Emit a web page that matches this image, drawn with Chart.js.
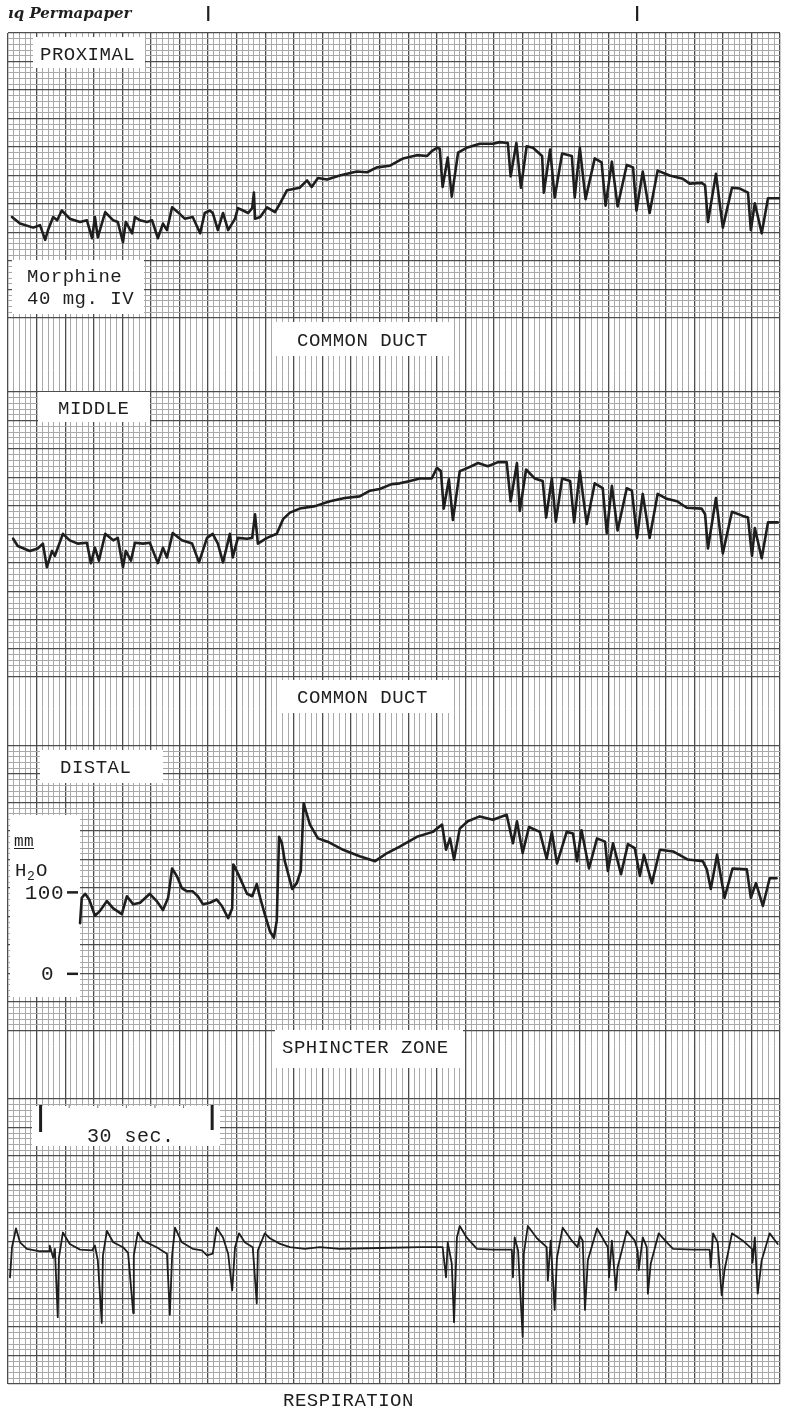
<!DOCTYPE html>
<html>
<head>
<meta charset="utf-8">
<script src="https://cdn.jsdelivr.net/npm/chart.js@4.4.1/dist/chart.umd.min.js"></script>
<style>
  html, body { margin: 0; background: #fff; }
  #wrap { width: 790px; height: 1410px; }
</style>
</head>
<body>
<div id="wrap"><canvas id="strip" width="790" height="1410"></canvas></div>
<script>
// paper: 1 small square = 1 s across, 5 squares per heavy line
const SECONDS = 135;
const ROWS = 237;
const CH_ROWS = 50;
const ZERO_ROW = 40;           // pressure zero sits 8 heavy lines below each channel top
const MM_PER_ROW = 7;          // mm H2O per small square
const channelTop = [0, 63, 125, 187];

// --- traces (seconds, mm H2O) ---
const proxSec = [0.7,2.1,4.4,5.6,6.5,7.0,7.9,8.6,9.4,10.8,12.6,13.8,14.7,15.2,15.7,17.0,18.4,19.2,20.1,20.6,21.7,22.2,23.1,24.3,25.2,26.2,27.1,27.8,28.7,29.7,30.9,32.3,33.6,34.4,35.3,35.8,36.7,37.6,38.5,39.7,40.2,41.1,42.0,42.7,43.0,43.2,44.1,45.3,46.7,47.6,48.8,51.0,52.3,53.1,54.2,55.8,58.0,61.0,62.8,64.5,66.8,69.1,71.5,73.3,74.1,75.0,75.5,76.0,76.9,77.6,78.7,80.2,82.5,84.8,86.0,87.4,87.9,88.9,89.7,90.7,91.8,93.4,93.7,94.8,95.6,96.9,98.6,99.1,100.0,101.0,102.6,103.8,104.5,105.6,106.6,108.2,109.3,109.9,111.0,112.2,113.6,115.7,118.0,119.2,121.3,121.9,122.4,123.8,125.0,126.6,128.0,129.4,129.9,130.6,131.8,132.9,135.0];
const proxVal = [54,46,41,44,26,38,54,50,62,52,48,50,28,54,29,60,50,48,23,48,34,54,50,48,50,28,46,38,66,60,52,54,34,59,62,59,38,59,38,52,65,62,59,65,84,52,54,66,60,71,87,90,99,91,102,100,105,110,109,115,117,126,130,129,135,139,138,91,127,79,133,139,144,144,146,145,104,145,90,141,139,129,84,137,78,132,129,78,139,76,126,121,68,122,67,118,115,62,110,59,111,105,101,95,96,93,48,107,41,90,89,84,38,71,34,77,77];

const midSec = [0.9,1.7,3.8,5.2,6.1,6.8,7.7,8.2,9.6,10.8,12.2,13.8,14.5,15.2,15.9,17.0,18.4,19.2,20.1,20.6,21.5,22.2,23.6,24.8,26.2,27.1,27.8,28.8,30.4,32.2,33.4,34.8,35.8,36.7,37.6,38.8,39.3,40.2,41.8,42.7,43.2,43.7,45.3,47.0,48.1,49.3,51.0,53.7,56.3,58.9,61.5,63.3,65.0,67.1,68.5,70.3,72.0,74.1,75.0,75.7,76.2,77.1,77.8,79.0,80.4,82.2,83.9,85.7,87.2,87.9,89.0,89.5,90.6,92.1,93.5,94.1,95.1,95.8,96.9,98.3,99.0,100.0,101.2,102.6,104.0,104.7,105.6,106.6,108.2,109.1,110.0,111.0,112.2,113.6,115.2,117.0,118.7,121.3,121.9,122.4,123.8,125.0,126.6,128.5,129.4,130.1,130.6,131.8,132.9,134.6];
const midVal = [100,91,85,88,94,65,85,79,106,98,94,95,70,89,73,106,98,101,65,85,73,95,94,95,70,89,77,107,98,94,71,101,106,94,71,106,77,101,100,101,130,94,101,106,124,132,137,140,146,150,152,159,161,167,168,171,174,174,187,183,137,173,123,183,187,193,189,194,194,146,193,134,185,174,171,126,174,121,174,171,120,183,118,168,162,107,165,110,162,159,101,155,101,155,149,146,138,137,130,88,150,82,133,128,126,79,113,76,120,120];

const distSec = [12.6,12.9,13.5,14.2,15.2,16.1,17.3,18.4,19.9,20.8,21.9,23.1,24.8,26.0,27.1,28.0,28.7,29.5,30.4,31.3,32.3,33.2,34.1,35.3,36.5,37.4,38.5,39.2,39.4,40.2,41.8,42.7,43.5,44.1,44.9,45.8,46.5,47.0,47.4,47.9,48.4,49.7,50.5,51.2,51.7,52.8,54.2,55.9,58.6,61.5,64.2,66.3,68.5,71.5,74.3,75.9,76.6,77.3,78.0,79.0,80.4,82.5,84.8,87.2,88.3,89.0,90.0,91.1,93.0,94.2,95.1,96.0,97.7,98.8,99.5,100.3,101.6,103.0,104.4,104.9,105.8,107.2,108.4,109.6,110.5,111.2,112.6,114.0,116.3,118.9,121.5,122.2,122.9,124.0,125.3,126.7,129.2,129.9,130.8,132.0,133.2,134.4];
const distVal = [62,93,98,91,71,77,89,80,73,95,85,87,98,89,78,93,129,120,105,101,101,95,85,87,91,83,68,80,134,123,98,95,110,93,73,52,44,65,168,160,138,104,111,126,209,183,166,162,152,144,138,148,156,168,174,183,152,166,140,178,187,193,189,195,160,187,148,180,174,141,174,135,174,172,138,176,129,166,162,126,160,122,159,154,120,146,111,152,150,140,138,128,104,146,93,129,128,93,111,83,117,117];

const respSec = [0.35,0.7,1.4,2.1,3.3,5.6,7.2,7.3,7.9,8.2,8.7,8.9,9.6,10.8,12.6,14.7,15.2,15.7,16.4,16.6,17.3,18.4,20.1,21.0,21.9,22.0,22.7,23.6,26.0,26.9,27.8,28.3,28.7,29.2,30.4,32.3,33.9,34.8,35.8,36.5,37.6,38.5,39.2,39.7,40.4,41.4,42.8,43.5,43.7,44.9,45.8,47.6,49.3,51.9,54.5,58.0,65.0,72.0,76.0,76.6,76.9,77.6,78.0,78.5,79.0,80.2,82.0,84.8,88.1,88.3,88.6,89.2,90.0,90.2,90.9,92.5,94.2,94.4,94.9,95.6,96.0,97.0,98.6,99.6,100.0,100.5,100.9,101.4,103.0,104.0,104.9,105.1,105.6,106.3,106.6,108.2,109.6,110.1,110.3,111.0,111.7,111.9,112.4,113.8,115.2,116.3,119.8,122.7,122.9,123.3,124.1,124.8,125.3,126.6,128.5,130.1,130.2,130.6,131.1,131.8,133.2,134.6];
const respVal = [61,98,121,104,96,93,93,100,85,96,12,85,116,102,95,94,100,82,5,88,118,104,98,91,17,88,116,106,98,94,90,15,88,122,104,96,94,88,90,122,110,90,45,98,115,104,98,29,94,115,109,102,98,96,98,96,97,98,98,61,104,78,6,110,124,110,96,95,95,61,110,94,-12,90,124,109,98,57,106,21,85,122,106,98,112,106,21,82,121,109,98,61,106,45,73,118,106,94,70,110,98,41,78,115,104,96,95,95,73,115,104,39,70,115,106,96,79,110,41,82,115,102];

const distalTicks = [0, 100];
const eventMarks = [35, 110];       // pen marks above the paper, seconds
const timeBarStart = 5.7, timeBarSpan = 30;

const MAJOR = '#4d4d4d', MINOR = '#a9a9a9', INK = '#1e1e1e';
const TYPE = "'Liberation Mono', 'DejaVu Sans Mono', monospace";

function pairs(ts, vs) {
    return ts.map((t, i) => ({ x: t, y: vs[i] }));
}

function traceAxis(ch) {
    const zero = channelTop[ch] + ZERO_ROW;
    return { type: 'linear', display: false, min: (zero - ROWS) * MM_PER_ROW, max: zero * MM_PER_ROW };
}

function rowStyle(v, major, minor) {
    const s = channelTop.find(top => v >= top && v <= top + CH_ROWS);
    if (s === undefined) return 'rgba(0,0,0,0)';
    return (v - s) % 5 === 0 ? major : minor;
}

const notes = [
    { lines: ['PROXIMAL'], box: [33, 37, 112, 31], at: [40, 60] },
    { lines: ['Morphine', '40 mg. IV'], box: [12, 260, 132, 54], at: [27, 282] },
    { lines: ['COMMON DUCT'], box: [272, 322, 178, 34], at: [297, 346] },
    { lines: ['MIDDLE'], box: [38, 392, 112, 30], at: [58, 414] },
    { lines: ['COMMON DUCT'], box: [280, 680, 172, 33], at: [297, 703] },
    { lines: ['DISTAL'], box: [40, 750, 123, 33], at: [60, 773] },
    { lines: ['SPHINCTER ZONE'], box: [275, 1030, 188, 38], at: [282, 1053] }
];

const paperNotes = {
    id: 'paperNotes',
    beforeDatasetsDraw(chart) {
        const { ctx, scales } = chart;
        ctx.save();
        ctx.fillStyle = '#fff';
        notes.forEach(n => ctx.fillRect(...n.box));
        ctx.fillRect(10, 815, 70, 182);       // pressure scale
        ctx.fillRect(32, 1106, 188, 40);      // time bar

        ctx.fillStyle = INK;
        ctx.letterSpacing = '0.5px';
        ctx.font = '19px ' + TYPE;
        ctx.textBaseline = 'alphabetic';
        notes.forEach(n => n.lines.forEach((s, i) => ctx.fillText(s, n.at[0], n.at[1] + i * 22)));

        // distal pressure scale, placed through the distal axis
        ctx.font = '16px ' + TYPE;
        ctx.fillText('mm', 14, 846);
        ctx.fillRect(14, 848, 20, 1);
        ctx.font = '19px ' + TYPE;
        ctx.fillText('H', 15, 876);
        ctx.font = '13px ' + TYPE;
        ctx.fillText('2', 27, 880);
        ctx.font = '19px ' + TYPE;
        ctx.fillText('O', 36, 876);
        ctx.font = '21px ' + TYPE;
        ctx.textAlign = 'right';
        ctx.textBaseline = 'middle';
        distalTicks.forEach(v => {
            const py = scales.y3.getPixelForValue(v);
            ctx.fillText(String(v), v === 0 ? 54 : 64, py + 1);
            ctx.fillRect(67, py - 1, 11, 2.5);
        });

        // 30 sec bar
        const x0 = scales.x.getPixelForValue(timeBarStart);
        const x1 = scales.x.getPixelForValue(timeBarStart + timeBarSpan);
        ctx.fillRect(x0 - 1.5, 1105, 3, 27);
        ctx.fillRect(x1 - 1.5, 1105, 3, 25);
        ctx.fillStyle = '#777';
        for (let s = 5; s < timeBarSpan; s += 5) {
            ctx.fillRect(scales.x.getPixelForValue(timeBarStart + s) - 0.5, 1105, 1, 3);
        }
        ctx.fillStyle = INK;
        ctx.textAlign = 'left';
        ctx.textBaseline = 'alphabetic';
        ctx.font = '20px ' + TYPE;
        ctx.fillText('30 sec.', 87, 1142);

        ctx.font = '19px ' + TYPE;
        ctx.fillText('RESPIRATION', 283, 1406);

        // header of the paper roll
        ctx.letterSpacing = '0px';
        ctx.font = "italic bold 15px 'DejaVu Serif', serif";
        ctx.fillText('ıq Permapaper', 8, 18);
        eventMarks.forEach(t => ctx.fillRect(scales.x.getPixelForValue(t) - 1, 6, 2.2, 15));
        ctx.restore();
    }
};

const traceStyle = { borderColor: INK, pointRadius: 0, tension: 0, borderJoinStyle: 'round', borderCapStyle: 'round', fill: false };

new Chart(document.getElementById('strip'), {
    type: 'line',
    data: {
        datasets: [
            { ...traceStyle, label: 'Proximal', data: pairs(proxSec, proxVal), yAxisID: 'y1', borderWidth: 2.6 },
            { ...traceStyle, label: 'Middle', data: pairs(midSec, midVal), yAxisID: 'y2', borderWidth: 2.6 },
            { ...traceStyle, label: 'Distal', data: pairs(distSec, distVal), yAxisID: 'y3', borderWidth: 2.6 },
            { ...traceStyle, label: 'Respiration', data: pairs(respSec, respVal), yAxisID: 'y4', borderWidth: 1.8 }
        ]
    },
    options: {
        responsive: false,
        animation: false,
        events: [],
        layout: { padding: { left: 8, right: 10, top: 33, bottom: 26 } },
        plugins: { legend: { display: false }, tooltip: { enabled: false } },
        scales: {
            x: {
                type: 'linear', min: 0, max: SECONDS,
                border: { display: false },
                ticks: { display: false, stepSize: 1, maxTicksLimit: 1000 },
                grid: {
                    drawTicks: false,
                    color: c => c.tick.value % 5 === 0 ? MAJOR : MINOR,
                    lineWidth: c => c.tick.value % 5 === 0 ? 1.3 : 1
                }
            },
            paper: {
                type: 'linear', position: 'left', reverse: true, min: 0, max: ROWS,
                border: { display: false },
                ticks: { display: false, stepSize: 1, maxTicksLimit: 1000 },
                grid: {
                    drawTicks: false,
                    color: c => rowStyle(c.tick.value, MAJOR, MINOR),
                    lineWidth: c => rowStyle(c.tick.value, 1.3, 1)
                }
            },
            y1: traceAxis(0),
            y2: traceAxis(1),
            y3: traceAxis(2),
            y4: traceAxis(3)
        }
    },
    plugins: [paperNotes]
});
</script>
</body>
</html>
